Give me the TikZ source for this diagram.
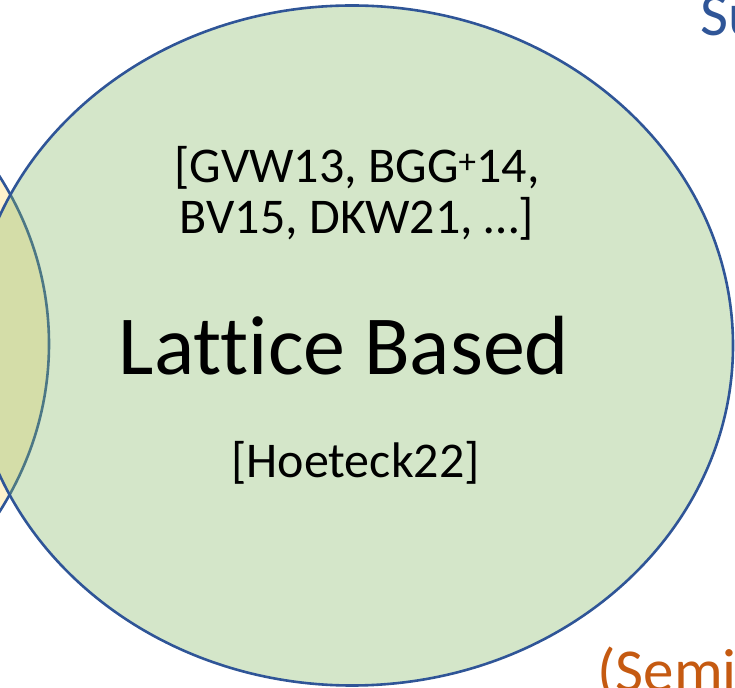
\documentclass[tikz,border=0pt]{standalone}
\usepackage{fontspec}
\setmainfont{Carlito}[Ligatures=NoCommon]
\definecolor{setline}{HTML}{2F5597}
\definecolor{latfill}{HTML}{84B865}
\definecolor{leftfill}{HTML}{FFF2CC}
\definecolor{semiorange}{HTML}{C55A11}
\tikzset{
  setshape/.style={draw=setline, line width=2.6pt},
  cite/.style={font=\fontsize{50}{60}\selectfont, inner sep=0pt, text=black},
  title/.style={font=\fontsize{84}{100}\selectfont, inner sep=0pt, text=black},
  corner/.style={font=\fontsize{61}{74}\selectfont, inner sep=0pt}
}
\begin{document}
\begin{tikzpicture}[x=1pt,y=1pt]
  \useasboundingbox (0,0) rectangle (735,687);
  \clip (0,0) rectangle (735,687);
  % neighbouring set on the left
  \draw[setshape, fill=leftfill] (-332,343) ellipse [x radius=381, y radius=340];
  % lattice-based set, translucent so the overlap shows through
  \draw[setshape, fill=latfill, fill opacity=0.35] (352,341.5) ellipse [x radius=381, y radius=340];
  % texts
  \node[cite, anchor=base] (refs1) at (357,504) {[GVW13, BGG\textsuperscript{+}14,};
  \node[cite, anchor=base] (refs2) at (357,453) {BV15, DKW21, …]};
  \node[title, anchor=base] (lattice) at (344,312) {Lattice Based};
  \node[cite, anchor=base] (hoeteck) at (355.5,209) {[Hoeteck22]};
  \node[corner, anchor=base west, text=setline] (su) at (700,651) {Su};
  \node[corner, anchor=base west, text=semiorange] (semi) at (597,-4) {(Semi};
\end{tikzpicture}
\end{document}
